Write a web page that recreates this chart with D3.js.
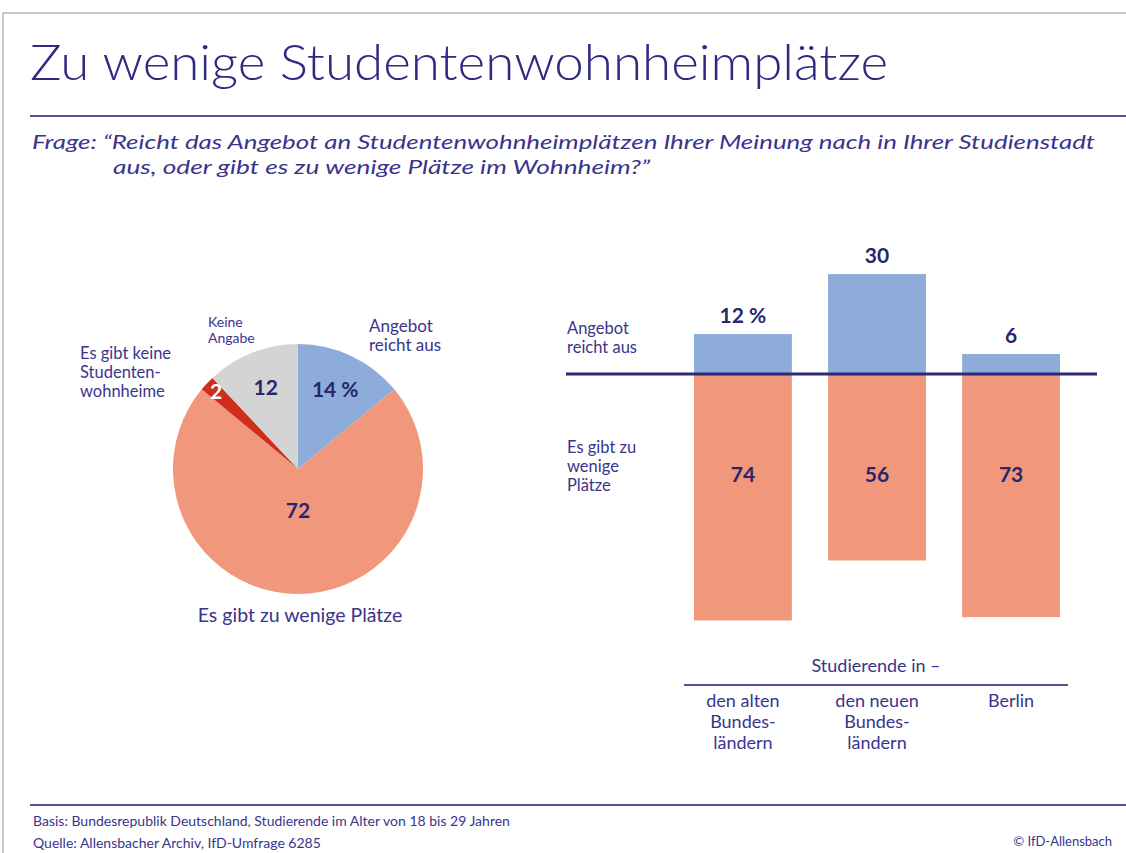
<!DOCTYPE html>
<html><head><meta charset="utf-8">
<script src="https://cdn.jsdelivr.net/npm/d3@7/dist/d3.min.js"></script>
<style>
html,body{margin:0;padding:0;background:#fff;}
svg text{font-family:"Lato","Noto Sans",sans-serif;}
</style></head>
<body>
<svg id="c" width="1126" height="853"></svg>
<script>
// ---- data ----
const pieLabels = ["Angebot reicht aus", "Es gibt zu wenige Plätze", "Es gibt keine Studentenwohnheime", "Keine Angabe"];
const pieValues = [14, 72, 2, 12];
const pieValueText = ["14 %", "72", "2", "12"];
const barCategories = ["den alten Bundesländern", "den neuen Bundesländern", "Berlin"];
const categoryLines = [["den alten", "Bundes-", "ländern"], ["den neuen", "Bundes-", "ländern"], ["Berlin"]];
const angebotValues = [12, 30, 6];
const angebotText = ["12 %", "30", "6"];
const zuWenigValues = [74, 56, 73];

const titleColor = "#2f2a80", textColor = "#3a348c", numColor = "#27266e";
const cBlue = "#8eacd9", cSalmon = "#f1977b", cRed = "#cf2e1c", cGray = "#d4d4d4";

const svg = d3.select("#c");

// frame
svg.append("path").attr("d", "M3,853 L3,13 L1126,13").attr("fill", "none").attr("stroke", "#c8c8c8").attr("stroke-width", 2);

// title
svg.append("text").attr("x", 30).attr("y", 80).attr("font-size", 49).attr("font-weight", 300)
  .attr("fill", titleColor).attr("textLength", 858).attr("lengthAdjust", "spacingAndGlyphs")
  .text("Zu wenige Studentenwohnheimplätze");
svg.append("line").attr("x1", 30).attr("x2", 1126).attr("y1", 116).attr("y2", 116).attr("stroke", "#5b4f9c").attr("stroke-width", 2);

// question
svg.append("text").attr("x", 32).attr("y", 149).attr("font-size", 20).attr("font-style", "italic").attr("fill", textColor)
  .attr("textLength", 1063).attr("lengthAdjust", "spacingAndGlyphs")
  .text("Frage: \u201CReicht das Angebot an Studentenwohnheimplätzen Ihrer Meinung nach in Ihrer Studienstadt");
svg.append("text").attr("x", 113).attr("y", 174).attr("font-size", 20).attr("font-style", "italic").attr("fill", textColor)
  .attr("textLength", 537).attr("lengthAdjust", "spacingAndGlyphs")
  .text("aus, oder gibt es zu wenige Plätze im Wohnheim?\u201D");

// ---- pie ----
const pieColors = [cBlue, cSalmon, cRed, cGray];
const cx = 298, cy = 469, R = 125;
const pie = d3.pie().sort(null).value(d => d)(pieValues);
const arc = d3.arc().innerRadius(0).outerRadius(R);
const gp = svg.append("g").attr("transform", `translate(${cx},${cy})`);
gp.selectAll("path").data(pie).join("path").attr("d", arc).attr("fill", (d, i) => pieColors[i]);

const labelRadius = [0.70, 0.33, 0.90, 0.70];
const labelColors = [numColor, numColor, "#ffffff", numColor];
gp.selectAll("text.v").data(pie).join("text").attr("class", "v")
  .attr("transform", (d, i) => {
    const a = (d.startAngle + d.endAngle) / 2;
    const r = R * labelRadius[i];
    return `translate(${Math.sin(a) * r},${-Math.cos(a) * r})`;
  })
  .attr("dy", "0.35em").attr("text-anchor", "middle").attr("font-size", 21).attr("font-weight", 700)
  .attr("fill", (d, i) => labelColors[i]).text((d, i) => pieValueText[i]);

function multiline(x, y, lines, size, lh, anchor, color) {
  const t = svg.append("text").attr("x", x).attr("y", y).attr("font-size", size).attr("fill", color || textColor)
    .attr("text-anchor", anchor || "start");
  lines.forEach((l, i) => t.append("tspan").attr("x", x).attr("y", y + i * lh).text(l));
  return t;
}
multiline(369, 332, ["Angebot", "reicht aus"], 17, 19);
multiline(208, 327, ["Keine", "Angabe"], 14, 16);
multiline(80, 359, ["Es gibt keine", "Studenten-", "wohnheime"], 16.5, 19);
multiline(300, 622, ["Es gibt zu wenige Plätze"], 19.5, 18, "middle");

// ---- bars ----
const x = d3.scaleBand().domain(barCategories).range([694, 1060]).paddingInner(0.27).paddingOuter(0);
const y = d3.scaleLinear().domain([-80, 40]).range([374 + 80 * 3.33, 374 - 40 * 3.33]);
const gb = svg.append("g");
gb.selectAll("rect.up").data(barCategories).join("rect").attr("class", "up")
  .attr("x", d => x(d)).attr("width", x.bandwidth())
  .attr("y", (d, i) => y(angebotValues[i])).attr("height", (d, i) => y(0) - y(angebotValues[i]))
  .attr("fill", cBlue);
gb.selectAll("rect.dn").data(barCategories).join("rect").attr("class", "dn")
  .attr("x", d => x(d)).attr("width", x.bandwidth())
  .attr("y", y(0)).attr("height", (d, i) => y(-zuWenigValues[i]) - y(0))
  .attr("fill", cSalmon);
svg.append("line").attr("x1", 566).attr("x2", 1097).attr("y1", y(0)).attr("y2", y(0)).attr("stroke", "#2b2a78").attr("stroke-width", 3);

gb.selectAll("text.up").data(barCategories).join("text").attr("class", "up")
  .attr("x", d => x(d) + x.bandwidth() / 2).attr("y", (d, i) => y(angebotValues[i]) - 11)
  .attr("text-anchor", "middle").attr("font-size", 21).attr("font-weight", 700).attr("fill", numColor)
  .text((d, i) => angebotText[i]);
gb.selectAll("text.dn").data(barCategories).join("text").attr("class", "dn")
  .attr("x", d => x(d) + x.bandwidth() / 2).attr("y", y(-30) + 8)
  .attr("text-anchor", "middle").attr("font-size", 21).attr("font-weight", 700).attr("fill", numColor)
  .text((d, i) => zuWenigValues[i]);

multiline(567, 334, ["Angebot", "reicht aus"], 16.5, 19);
multiline(567, 453, ["Es gibt zu", "wenige", "Plätze"], 16.5, 19);

svg.append("text").attr("x", 876).attr("y", 672).attr("text-anchor", "middle").attr("font-size", 18).attr("fill", textColor).text("Studierende in \u2013");
svg.append("line").attr("x1", 684).attr("x2", 1068).attr("y1", 685).attr("y2", 685).attr("stroke", "#5b4f9c").attr("stroke-width", 2);
barCategories.forEach((c, i) => multiline(x(c) + x.bandwidth() / 2, 707, categoryLines[i], 18, 21, "middle"));

// footer
svg.append("line").attr("x1", 30).attr("x2", 1126).attr("y1", 805).attr("y2", 805).attr("stroke", "#5b4f9c").attr("stroke-width", 2);
svg.append("text").attr("x", 33).attr("y", 826).attr("font-size", 14).attr("fill", textColor)
  .text("Basis: Bundesrepublik Deutschland, Studierende im Alter von 18 bis 29 Jahren");
svg.append("text").attr("x", 33).attr("y", 848).attr("font-size", 14).attr("fill", textColor)
  .text("Quelle: Allensbacher Archiv, IfD-Umfrage 6285");
svg.append("text").attr("x", 1112).attr("y", 846).attr("text-anchor", "end").attr("font-size", 13).attr("fill", textColor)
  .text("\u00A9 IfD-Allensbach");
</script>
</body></html>
